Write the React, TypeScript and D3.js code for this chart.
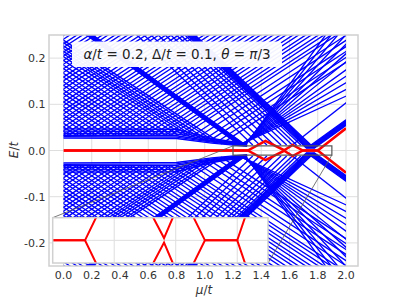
import * as d3 from "d3";

// ---- data (upper half, E > 0; the lower half is its mirror) ----

// V-shaped levels of the dense mesh: where each level touches the gap floor (μ/t)
const meshFeet = [
  -1.08, -1.04, -0.99, -0.95, -0.9, -0.86, -0.81, -0.77, -0.72, -0.68, -0.63, -0.59,
  -0.54, -0.5, -0.45, -0.41, -0.36, -0.32, -0.27, -0.23, -0.18, -0.14, -0.09, -0.05,
  0.0, 0.04, 0.09, 0.13, 0.18, 0.22, 0.27, 0.31, 0.36, 0.4, 0.45, 0.49, 0.54, 0.58,
  0.63, 0.67, 0.72, 0.76, 0.81, 0.85, 0.9, 0.94, 0.99, 1.03, 1.08, 1.12,
];
const meshSlope = 0.2;

// gap floor along μ/t
const floorMu = [-1.2, 0.85, 1.0, 1.15, 1.3];
const floorE = [0.033, 0.033, 0.022, 0.013, 0.009];

// lowest, nearly flat levels (E at μ=0) and the μ where they bend down
const flatLevels = [0.027, 0.03, 0.033, 0.037, 0.042, 0.047];
const flatBendMu = [0.8, 1.05, 1.3];

// band closing the gap near μ/t ≈ 1.27, and the fan of slopes leaving it
const bandBFeet = [1.245, 1.249, 1.253, 1.257, 1.261, 1.265, 1.269, 1.273, 1.277, 1.281, 1.285, 1.289];
const bandBFootE = 0.012;
const bandBSlopeDown = 0.22;
const fanSlopes = [0.14, 0.16, 0.18, 0.2, 0.22, 0.245, 0.27, 0.3, 0.33, 0.36, 0.39, 0.42];

// thick band closing the gap near μ/t ≈ 1.75
const bandAFeet = [1.72, 1.728, 1.736, 1.744, 1.752, 1.76, 1.768, 1.776];
const bandAFootE = 0.005;
const bandASlopeDown = 0.29;
const bandASlopeUp = 0.22;

// sparser levels parallel to the thick band (descending arms only)
const bandASideFeet = [1.34, 1.39, 1.44, 1.49, 1.54, 1.58, 1.62, 1.65, 1.68];
const bandASideFootE = 0.012;
// single level crossing the white triangle on the right
const loneFoot = 1.62;
const loneFootE = 0.012;
const loneSlope = 0.24;

// Majorana (red) level: knots of μ/t and E/t
const redMu = [0, 1.305, 1.43, 1.562, 1.622, 1.695, 1.8, 2.0];
const redE = [0, 0, 0.021, 0.0006, 0.012, 0, 0, 0.048];

const xTicks = [0, 0.2, 0.4, 0.6, 0.8, 1.0, 1.2, 1.4, 1.6, 1.8, 2.0];
const yTicks = [-0.2, -0.1, 0.0, 0.1, 0.2];
const insetXTicks = [1.4, 1.6, 1.8];

const zoomBox = { mu: [1.2, 1.9], e: [-0.01, 0.01] };

type Pt = [number, number];

function vLevel(foot: number, footE: number, sDown: number, sUp: number): Pt[] {
  return [
    [-0.2, footE + sDown * (foot + 0.2)],
    [foot, footE],
    [2.2, footE + sUp * (2.2 - foot)],
  ];
}
function downArm(foot: number, footE: number, s: number): Pt[] {
  return [
    [-0.2, footE + s * (foot + 0.2)],
    [foot, footE],
  ];
}
function upArm(foot: number, footE: number, s: number): Pt[] {
  return [
    [foot, footE],
    [2.2, footE + s * (2.2 - foot)],
  ];
}
const mirror = (l: Pt[]) => l.map(([m, e]) => [m, -e] as Pt);

export default function App() {
  const width = 399;
  const height = 299;
  const left = 49;
  const right = 358;
  const top = 35;
  const bottom = 266;

  const x = d3.scaleLinear().domain([-0.1027, 2.085]).range([left, right]);
  const y = d3.scaleLinear().domain([-0.25, 0.25]).range([bottom, top]);

  const line = d3
    .line<Pt>()
    .x((d) => x(d[0]))
    .y((d) => y(d[1]));

  const floor = d3.scaleLinear().domain(floorMu).range(floorE).clamp(true);

  const upper: Pt[][] = [];
  meshFeet.forEach((f) => upper.push(vLevel(f, floor(f), meshSlope, meshSlope)));
  bandBFeet.forEach((f, i) => upper.push(vLevel(f, bandBFootE, bandBSlopeDown, fanSlopes[i])));
  bandAFeet.forEach((f) => upper.push(vLevel(f, bandAFootE, bandASlopeDown, bandASlopeUp)));
  bandASideFeet.forEach((f) => upper.push(downArm(f, bandASideFootE, bandASlopeDown)));
  upper.push(upArm(loneFoot, loneFootE, loneSlope));
  flatLevels.forEach((e, i) =>
    upper.push([
      [-0.2, e],
      [flatBendMu[0], e - 0.001],
      [flatBendMu[1], 0.016 + i * 0.002],
      [flatBendMu[2], 0.009 + i * 0.001],
    ])
  );
  const blue = upper.concat(upper.map(mirror));

  const red: Pt[] = redMu.map((m, i) => [m, redE[i]]);
  const redLow: Pt[] = mirror(red);

  // inset
  const inL = 52.7;
  const inR = 268;
  const inT = 217.7;
  const inB = 263;
  const ix = d3.scaleLinear().domain(zoomBox.mu).range([inL, inR]);
  const iy = d3.scaleLinear().domain([-0.006, 0.006]).range([inB, inT]);
  const iline = d3
    .line<Pt>()
    .x((d) => ix(d[0]))
    .y((d) => iy(d[1]));

  const grid = "#dedede";
  const frame = "#d0d0d0";
  const txt = "#333";
  const blueC = "#0000ff";

  return (
    <svg
      width={width}
      height={height}
      style={{ position: "absolute", left: 0, top: 0, background: "#fff" }}
      fontFamily="DejaVu Sans"
    >
      <defs>
        {/* data only spans μ/t in [0, 2] */}
        <clipPath id="data">
          <rect x={x(0)} y={top} width={x(2) - x(0)} height={bottom - top} />
        </clipPath>
        <clipPath id="plot">
          <rect x={left} y={top} width={right - left} height={bottom - top} />
        </clipPath>
        <clipPath id="inset">
          <rect x={inL} y={inT} width={inR - inL} height={inB - inT} />
        </clipPath>
      </defs>

      {/* grid */}
      {xTicks.map((t) => (
        <line key={"gx" + t} x1={x(t)} x2={x(t)} y1={top} y2={bottom} stroke={grid} strokeWidth={1} />
      ))}
      {yTicks.map((t) => (
        <line key={"gy" + t} x1={left} x2={right} y1={y(t)} y2={y(t)} stroke={grid} strokeWidth={1} />
      ))}

      <g clipPath="url(#data)">
        {blue.map((l, i) => (
          <path key={i} d={line(l)!} fill="none" stroke={blueC} strokeWidth={1.35} />
        ))}
        <path d={line(red)!} fill="none" stroke="#ff0000" strokeWidth={2.5} />
        <path d={line(redLow)!} fill="none" stroke="#ff0000" strokeWidth={2.5} />
      </g>

      <g clipPath="url(#plot)">
        {/* zoom rectangle and connectors */}
        <rect
          x={x(zoomBox.mu[0])}
          y={y(zoomBox.e[1])}
          width={x(zoomBox.mu[1]) - x(zoomBox.mu[0])}
          height={y(zoomBox.e[0]) - y(zoomBox.e[1])}
          fill="none"
          stroke="#555"
          strokeWidth={1.2}
        />
        <line x1={x(zoomBox.mu[0])} y1={y(zoomBox.e[1])} x2={inL} y2={inT} stroke="#555" strokeWidth={0.8} />
        <line x1={x(zoomBox.mu[1])} y1={y(zoomBox.e[0])} x2={inR} y2={inB} stroke="#555" strokeWidth={0.8} />
      </g>

      {/* parameter box */}
      <rect x={72} y={41.5} width={210} height={25.5} rx={4} fill="#fff" fillOpacity={0.95} />
      <text x={177} y={59} textAnchor="middle" fontSize={13.5} fill="#222">
        <tspan fontStyle="italic">α</tspan>/<tspan fontStyle="italic">t</tspan> = 0.2, Δ/
        <tspan fontStyle="italic">t</tspan> = 0.1, <tspan fontStyle="italic">θ</tspan> ={" "}
        <tspan fontStyle="italic">π</tspan>/3
      </text>

      {/* inset */}
      <rect x={inL} y={inT} width={inR - inL} height={inB - inT} fill="#fff" />
      {insetXTicks.map((t) => (
        <line key={"ix" + t} x1={ix(t)} x2={ix(t)} y1={inT} y2={inB} stroke={grid} strokeWidth={1} />
      ))}
      <line x1={inL} x2={inR} y1={iy(0)} y2={iy(0)} stroke={grid} strokeWidth={1} />
      <g clipPath="url(#inset)">
        <path d={iline(red)!} fill="none" stroke="#ff0000" strokeWidth={2} />
        <path d={iline(redLow)!} fill="none" stroke="#ff0000" strokeWidth={2} />
      </g>
      <rect x={inL} y={inT} width={inR - inL} height={inB - inT} fill="none" stroke={frame} strokeWidth={1.5} />

      {/* frame */}
      <rect x={left} y={top} width={right - left} height={bottom - top} fill="none" stroke={frame} strokeWidth={1.5} />

      {/* tick labels */}
      {xTicks.map((t) => (
        <text key={"tx" + t} x={x(t)} y={279} textAnchor="middle" fontSize={11} fill={txt}>
          {t.toFixed(1)}
        </text>
      ))}
      {yTicks.map((t) => (
        <text key={"ty" + t} x={45.5} y={y(t) + 4} textAnchor="end" fontSize={11} fill={txt}>
          {t.toFixed(1)}
        </text>
      ))}

      {/* axis labels */}
      <text x={204} y={294} textAnchor="middle" fontSize={12} fill={txt}>
        <tspan fontStyle="italic">μ</tspan>/<tspan fontStyle="italic">t</tspan>
      </text>
      <text transform="translate(18,150) rotate(-90)" textAnchor="middle" fontSize={12} fill={txt}>
        <tspan fontStyle="italic">E</tspan>/<tspan fontStyle="italic">t</tspan>
      </text>
    </svg>
  );
}
